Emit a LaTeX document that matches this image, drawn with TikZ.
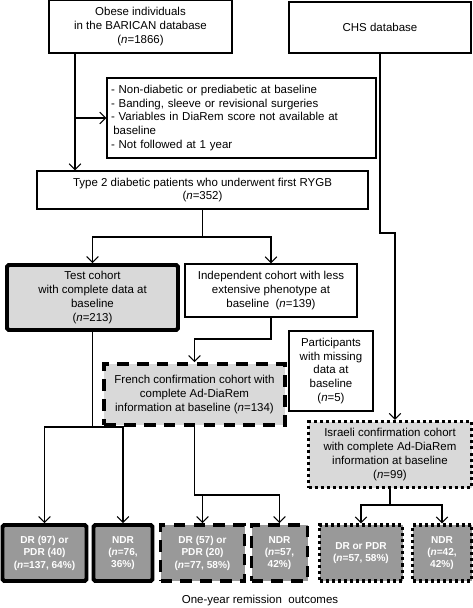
\documentclass[tikz,border=0pt]{standalone}
\usepackage{fontspec}
\setmainfont{Liberation Sans}
\usepackage{xcolor}
\usetikzlibrary{arrows.meta, positioning, calc}

\definecolor{lightgrey}{gray}{0.85}
\definecolor{midgrey}{gray}{0.6}

\tikzset{
  box/.style={draw, line width=1.1pt, inner sep=0pt, align=center,
    font=\fontsize{9.8}{11.9}\selectfont},
  testbox/.style={box, fill=lightgrey, line width=3.4pt, rounded corners=1.5pt},
  frenchbox/.style={box, fill=lightgrey, line width=3.4pt, dash pattern=on 10pt off 7pt},
  israelbox/.style={box, fill=lightgrey, line width=2.6pt, dash pattern=on 2.6pt off 2.6pt},
  outcome/.style={fill=midgrey, text=white, inner sep=0pt, align=center,
    font=\fontsize{8.6}{10.6}\selectfont\bfseries, minimum height=56*\u},
  arr/.style={-{Straight Barb[length=5pt,width=10pt]}, line width=0.9pt}
}

\begin{document}
\begin{tikzpicture}[x=0.03cm, y=-0.03cm]
    \def\u{0.03cm}
    \useasboundingbox (0,0) rectangle (473,608);

    % Databases
    \node[box, minimum width=183*\u, minimum height=53*\u] (obese) at (140.5,26.5)
      {Obese individuals\\in the BARICAN database\\(\textit{n}=1866)};
    \node[box, minimum width=182*\u, minimum height=51*\u] (chs) at (380,27.5)
      {CHS database};

    % Exclusions
    \node[box, align=left, minimum width=269*\u, minimum height=80*\u, text width=261*\u] (excl) at (241.5,118)
      {- Non-diabetic or prediabetic at baseline\\
       - Banding, sleeve or revisional surgeries\\
       - Variables in DiaRem score not available at\\
       \hspace*{2pt}baseline\\
       - Not followed at 1 year};

    \node[box, minimum width=331*\u, minimum height=38*\u] (type2) at (202.5,190)
      {Type 2 diabetic patients who underwent first RYGB\\(\textit{n}=352)};

    % Cohorts
    \node[testbox, minimum width=171*\u, minimum height=65*\u] (test) at (92.5,297.5)
      {Test cohort\\with complete data at\\baseline\\(\textit{n}=213)};
    \node[box, minimum width=172*\u, minimum height=53*\u] (indep) at (271,290.5)
      {Independent cohort with less\\extensive phenotype at\\baseline\ \ (\textit{n}=139)};
    \node[frenchbox, minimum width=181*\u, minimum height=61*\u] (french) at (194.5,394.5)
      {French confirmation cohort with\\complete Ad-DiaRem\\information at baseline (\textit{n}=134)};
    \node[box, minimum width=84*\u, minimum height=80*\u] (missing) at (331,371)
      {Participants\\with missing\\data at\\baseline\\(\textit{n}=5)};
    \node[israelbox, minimum width=163*\u, minimum height=66*\u] (israeli) at (390,454.5)
      {Israeli confirmation cohort\\with complete Ad-DiaRem\\information at baseline\\(\textit{n}=99)};

    % Outcomes
    \node[outcome, draw, line width=3.4pt, rounded corners=1.5pt, minimum width=84*\u] (b1) at (44.5,553)
      {DR (97) or\\PDR (40)\\(\textit{n}=137, 64\%)};
    \node[outcome, draw, line width=3.4pt, rounded corners=1.5pt, minimum width=59*\u] (b2) at (123,553)
      {NDR\\(\textit{n}=76,\\36\%)};
    \node[outcome, draw, line width=3.4pt, dash pattern=on 10pt off 7pt, minimum width=84*\u] (b3) at (202.5,553)
      {DR (57) or\\PDR (20)\\(\textit{n}=77, 58\%)};
    \node[outcome, draw, line width=3.4pt, dash pattern=on 10pt off 7pt, minimum width=56*\u] (b4) at (279.5,553)
      {NDR\\(\textit{n}=57,\\42\%)};
    \node[outcome, draw, line width=2.6pt, dash pattern=on 2.6pt off 2.6pt, minimum width=83*\u] (b5) at (361,553)
      {DR or PDR\\(\textit{n}=57, 58\%)};
    \node[outcome, draw, line width=2.6pt, dash pattern=on 2.6pt off 2.6pt, minimum width=59*\u] (b6) at (442,553)
      {NDR\\(\textit{n}=42,\\42\%)};

    \node[font=\fontsize{9.8}{11.9}\selectfont] (caption) at (260,601) {One-year remission\ \ outcomes};

    % Connectors
    \coordinate (s1) at (75,0);
    \draw[arr] (s1 |- obese.south) -- (s1 |- type2.north);
    \draw[arr] (s1 |- excl.west) -- (excl.west);

    \coordinate (c1) at (395,233);
    \draw[arr] (chs.south) |- (c1) -- (c1 |- israeli.north);

    \coordinate (t1) at (0,237);
    \draw[arr] (type2.south) -- (type2.south |- t1) -| (test.north);
    \draw[arr] (type2.south |- t1) -| (indep.north);

    \coordinate (f1) at (0,339);
    \draw[arr] (indep.south) -- (indep.south |- f1) -| (french.north);

    \coordinate (t2) at (0,427);
    \draw[arr] (test.south) -- (test.south |- t2) -| (b1.north);
    \draw[arr] (test.south |- t2) -| (b2.north);

    \coordinate (t3) at (0,495);
    \draw[arr] (french.south) -- (french.south |- t3) -| (b3.north);
    \draw[arr] (french.south |- t3) -| (b4.north);

    \coordinate (t4) at (0,505);
    \draw[arr] (israeli.south) -- (israeli.south |- t4) -| (b5.north);
    \draw[arr] (israeli.south |- t4) -| (b6.north);
\end{tikzpicture}
\end{document}
